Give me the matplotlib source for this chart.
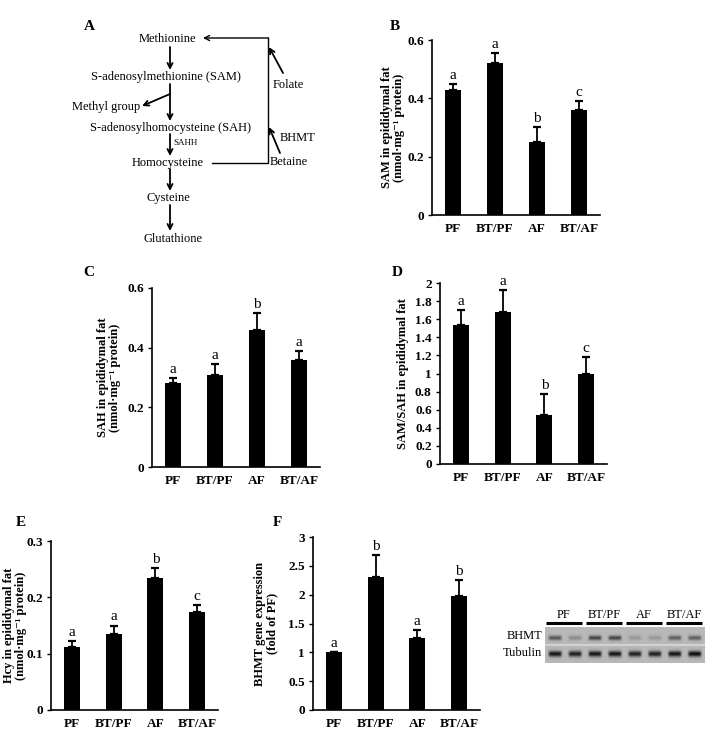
import numpy as np
import matplotlib
matplotlib.use("Agg")
import matplotlib.pyplot as plt

plt.rcParams['font.family'] = ['Liberation Serif', 'DejaVu Serif']

groups = ["PF", "BT/PF", "AF", "BT/AF"]

sam_mean = [0.43, 0.52, 0.25, 0.36]
sam_err = [0.02, 0.035, 0.053, 0.03]
sam_letters = ["a", "a", "b", "c"]

sah_mean = [0.28, 0.31, 0.46, 0.36]
sah_err = [0.017, 0.035, 0.055, 0.03]
sah_letters = ["a", "a", "b", "a"]

ratio_mean = [1.54, 1.68, 0.54, 1.00]
ratio_err = [0.16, 0.24, 0.23, 0.18]
ratio_letters = ["a", "a", "b", "c"]

hcy_mean = [0.112, 0.135, 0.235, 0.174]
hcy_err = [0.010, 0.015, 0.017, 0.013]
hcy_letters = ["a", "a", "b", "c"]

bhmt_mean = [1.00, 2.30, 1.25, 1.97]
bhmt_err = [0.0, 0.38, 0.13, 0.28]
bhmt_letters = ["a", "b", "a", "b"]

blot_bhmt = [0.55, 0.25, 0.65, 0.65, 0.18, 0.18, 0.5, 0.5]
blot_tub = [0.85, 0.8, 0.85, 0.85, 0.8, 0.8, 0.85, 0.9]

W, H = 708, 731
fig = plt.figure(figsize=(W / 100, H / 100), dpi=100)

def px_axes(x0, y_top, x1, y_bot):
    return fig.add_axes([x0 / W, 1 - y_bot / H, (x1 - x0) / W, (y_bot - y_top) / H])

# ---------- Panel A diagram ----------
axd = fig.add_axes([0, 0, 1, 1], zorder=-1)
axd.set_xlim(0, W)
axd.set_ylim(H, 0)
axd.axis('off')
fs = 9
axd.text(89, 27, "A", fontsize=11, fontweight='bold', ha='center', va='center')
nodes = [("Methionine", 167, 39), ("S-adenosylmethionine (SAM)", 166, 77),
         ("S-adenosylhomocysteine (SAH)", 170, 128), ("Homocysteine", 168, 163),
         ("Cysteine", 168, 198), ("Glutathione", 173, 239)]
for t, x, y in nodes:
    axd.text(x, y, t, fontsize=fs, ha='center', va='center')
axd.text(106, 107, "Methyl group", fontsize=fs, ha='center', va='center')
axd.text(173, 143, "SAHH", fontsize=6.5, ha='left', va='center')
axd.text(273, 85, "Folate", fontsize=fs, ha='left', va='center')
axd.text(280, 138, "BHMT", fontsize=fs, ha='left', va='center')
axd.text(270, 162, "Betaine", fontsize=fs, ha='left', va='center')
ap = dict(arrowstyle='->', lw=1.3, color='black', mutation_scale=9, shrinkA=0, shrinkB=0)
for y0, y1 in [(47, 70), (84, 121), (134, 156), (169, 191), (205, 231)]:
    axd.annotate("", xy=(170, y1), xytext=(170, y0), arrowprops=ap)
axd.annotate("", xy=(142, 106), xytext=(170, 94), arrowprops=ap)
axd.plot([212, 268, 268], [163, 163, 38], color='black', lw=1.0)
axd.annotate("", xy=(203, 38), xytext=(268.5, 38), arrowprops=dict(ap, lw=1.0))
axd.annotate("", xy=(269, 47), xytext=(283, 73), arrowprops=ap)
axd.annotate("", xy=(269, 127), xytext=(280, 153), arrowprops=ap)

# ---------- bar panels ----------
def bar_panel(rect, means, errs, letters, ylim, ticks, ticklabels, ylabel, label, label_xy,
              lab_off, lab_fs=9):
    ax = px_axes(*rect)
    x = np.arange(len(groups)) + 0.5
    ax.bar(x, means, width=0.38, color='black', zorder=2)
    ax.errorbar(x, means, yerr=[np.zeros(len(errs)), errs], fmt='none', ecolor='black',
                elinewidth=1.3, capsize=3, capthick=1.6, zorder=1)
    rng = ylim[1] - ylim[0]
    for xi, m, e, l in zip(x, means, errs, letters):
        ax.text(xi, m + e + 0.012 * rng, l, ha='center', va='bottom', fontsize=11)
    ax.set_xlim(0, 4)
    ax.set_ylim(*ylim)
    ax.set_yticks(ticks)
    ax.set_yticklabels(ticklabels, fontsize=9.5, fontweight='bold')
    ax.set_xticks(x)
    ax.set_xticklabels(groups, fontsize=9.5, fontweight='bold')
    ax.tick_params(axis='x', length=0, pad=6)
    ax.tick_params(axis='y', length=3, width=1, direction='out', pad=3)
    for s in ['top', 'right']:
        ax.spines[s].set_visible(False)
    for s in ['left', 'bottom']:
        ax.spines[s].set_linewidth(1.2)
    ax.set_ylabel(ylabel, fontsize=lab_fs, fontweight='bold', linespacing=1.05)
    ax.yaxis.set_label_coords(lab_off / (rect[2] - rect[0]), 0.5)
    fig.text(label_xy[0] / W, 1 - label_xy[1] / H, label, fontsize=11, fontweight='bold',
             ha='center', va='center')
    return ax

unit = "(nmol\u00b7mg\u207b\u00b9 protein)"
bar_panel((432, 40, 600, 215), sam_mean, sam_err, sam_letters, (0, 0.6),
          [0, 0.2, 0.4, 0.6], ["0", "0.2", "0.4", "0.6"],
          "SAM in epididymal fat\n" + unit, "B", (395, 27), -27)
bar_panel((152, 288, 320, 467), sah_mean, sah_err, sah_letters, (0, 0.6),
          [0, 0.2, 0.4, 0.6], ["0", "0.2", "0.4", "0.6"],
          "SAH in epididymal fat\n" + unit, "C", (89, 273), -31)
rt = [round(0.2 * i, 1) for i in range(11)]
bar_panel((440, 283, 607, 464), ratio_mean, ratio_err, ratio_letters, (0, 2),
          rt, [("%g" % v) for v in rt],
          "SAM/SAH in epididymal fat", "D", (397, 273), -31)
bar_panel((51, 541, 218, 710), hcy_mean, hcy_err, hcy_letters, (0, 0.3),
          [0, 0.1, 0.2, 0.3], ["0", "0.1", "0.2", "0.3"],
          "Hcy in epididymal fat\n" + unit, "E", (21, 523), -24)
ft = [0, 0.5, 1, 1.5, 2, 2.5, 3]
bar_panel((313, 537, 480, 710), bhmt_mean, bhmt_err, bhmt_letters, (0, 3),
          ft, [("%g" % v) for v in ft],
          "BHMT gene expression\n(fold of PF)", "F", (277, 523), -35)

# ---------- Western blot ----------
axb = px_axes(545, 627, 705, 663)
nl = len(blot_bhmt)
nx, ny = 320, 72
img = np.full((ny, nx), 0.72)
xs = np.linspace(0, nl, nx)
ys = np.linspace(0, 2, ny)
X, Y = np.meshgrid(xs, ys)
for i in range(nl):
    cx = i + 0.5
    lane = np.exp(-((X - cx) / 0.33) ** 8)
    img -= 0.7 * blot_bhmt[i] * lane * np.exp(-((Y - 0.6) / 0.13) ** 2)
    img -= 0.75 * blot_tub[i] * lane * np.exp(-((Y - 1.5) / 0.16) ** 2)
img[(ys > 0.98) & (ys < 1.04), :] = 0.93
axb.imshow(np.clip(img, 0, 1), cmap='gray', vmin=0, vmax=1, aspect='auto',
           extent=(0, nl, 2, 0), interpolation='bilinear')
axb.axis('off')
axl = fig.add_axes([0, 0, 1, 1], zorder=-2)
axl.set_xlim(0, W)
axl.set_ylim(H, 0)
axl.axis('off')
lane_w = 160 / nl
for gi, g in enumerate(groups):
    xa = 545 + gi * 2 * lane_w + 1
    xb = 545 + (gi + 1) * 2 * lane_w - 3
    axl.plot([xa, xb], [623, 623], color='black', lw=2.2, solid_capstyle='butt')
    axl.text((xa + xb) / 2, 615, g, fontsize=9, ha='center', va='center')
axl.text(542, 636, "BHMT", fontsize=9, ha='right', va='center')
axl.text(542, 653, "Tubulin", fontsize=9, ha='right', va='center')

fig.savefig("out.png", dpi=100)
